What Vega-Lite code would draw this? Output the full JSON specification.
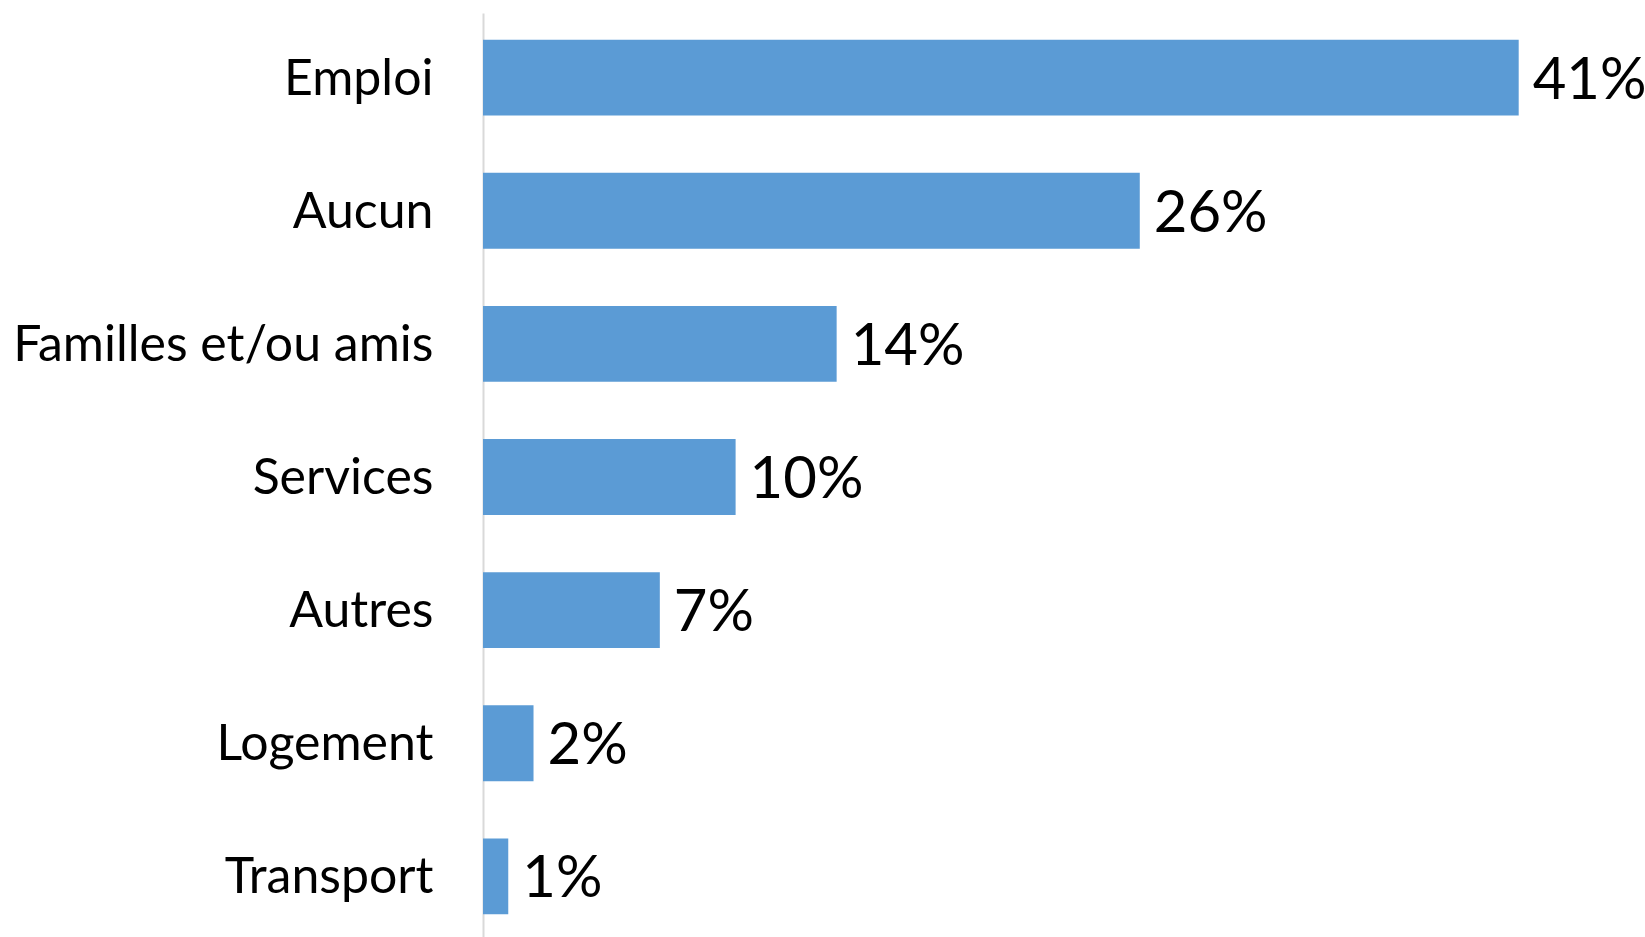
{
  "$schema": "https://vega.github.io/schema/vega-lite/v6.json",
  "width": 1162,
  "height": 928,
  "autosize": {"type": "none"},
  "padding": {"left": 483, "top": 13, "right": 0, "bottom": 0},
  "background": "white",
  "config": {"view": {"stroke": null}, "font": "Lato"},
  "data": {
    "values": [
      {"cat": "Emploi", "v": 41, "label": "41%"},
      {"cat": "Aucun\u2002", "v": 26, "label": "26%"},
      {"cat": "Familles et/ou amis", "v": 14, "label": "14%"},
      {"cat": "Services", "v": 10, "label": "10%"},
      {"cat": "Autres", "v": 7, "label": "7%"},
      {"cat": "Logement", "v": 2, "label": "2%"},
      {"cat": "Transport", "v": 1, "label": "1%"}
    ]
  },
  "encoding": {
    "y": {
      "field": "cat",
      "type": "nominal",
      "sort": null,
      "scale": {"paddingInner": 0.43, "paddingOuter": 0.2},
      "axis": {
        "title": null,
        "ticks": false,
        "domainColor": "#d9d9d9",
        "domainWidth": 2,
        "labelFontSize": 50,
        "labelColor": "#000000",
        "labelPadding": 50,
        "labelOffset": 2,
        "labelFont": "Lato",
        "labelLimit": 0
      }
    },
    "x": {
      "field": "v",
      "type": "quantitative",
      "scale": {"domain": [0, 46]},
      "axis": null
    }
  },
  "layer": [
    {"mark": {"type": "bar", "color": "#5B9BD5"}},
    {
      "mark": {"type": "text", "align": "left", "dx": 14, "dy": 4, "fontSize": 58, "baseline": "middle", "color": "#000000", "font": "Lato"},
      "encoding": {"text": {"field": "label"}}
    }
  ]
}
